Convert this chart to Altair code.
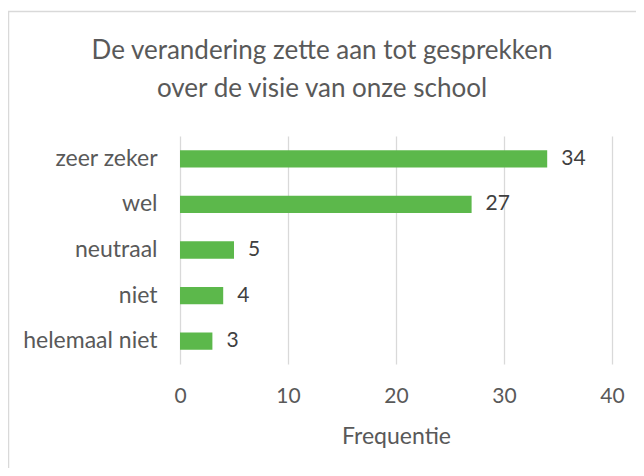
import altair as alt
import pandas as pd

categories = ["zeer zeker", "wel", "neutraal", "niet", "helemaal niet"]
values = [34, 27, 5, 4, 3]
x_ticks = [0, 10, 20, 30, 40]

df = pd.DataFrame({"cat": categories, "val": values})

FONT = "Lato"
GREY = "#595959"

y_enc = alt.Y("cat:N", sort=categories, title=None,
              scale=alt.Scale(paddingInner=0.62, paddingOuter=0.31),
              axis=alt.Axis(labelFont=FONT, labelFontSize=23, labelColor=GREY,
                            labelPadding=23, ticks=False, domain=False, grid=False))
x_enc = alt.X("val:Q", title="Frequentie",
              scale=alt.Scale(domain=[0, 40], nice=False),
              axis=alt.Axis(values=x_ticks, labelFont=FONT, labelFontSize=21,
                            labelColor=GREY, labelPadding=21, ticks=False,
                            labelFlush=False, domain=False, grid=True,
                            gridColor="#d9d9d9", gridWidth=1.3, titleFont=FONT,
                            titleFontSize=23, titleColor=GREY,
                            titleFontWeight="normal", titleX=216, titleY=79,
                            titleAlign="center", titleBaseline="alphabetic"))

bars = alt.Chart(df).mark_bar(color="#5cb84b").encode(x=x_enc, y=y_enc)
labels = alt.Chart(df).mark_text(align="left", dx=14, font=FONT, fontSize=21,
                                 color="#404040").encode(
    x="val:Q", y=alt.Y("cat:N", sort=categories), text="val:Q")

frame = alt.Chart(pd.DataFrame({"a": [0]})).mark_rect(
    fillOpacity=0, stroke="#d9d9d9", strokeWidth=1.5).encode(
    x=alt.value(-171.5), x2=alt.value(500), y=alt.value(-124.5), y2=alt.value(400))

chart = alt.layer(frame, bars, labels).properties(
    width=432, height=228,
    padding={"left": 172, "top": 128, "right": 24, "bottom": 104},
    autosize=alt.AutoSizeParams(type="none"),
    title=alt.Title(["De verandering zette aan tot gesprekken", "over de visie van onze school"],
                    font=FONT, fontSize=26, fontWeight="normal", color=GREY,
                    lineHeight=38, anchor="middle", dx=-74, offset=-91),
).configure_view(stroke=None)

chart.save("out.html", embed_options={"renderer": "svg", "actions": False})
